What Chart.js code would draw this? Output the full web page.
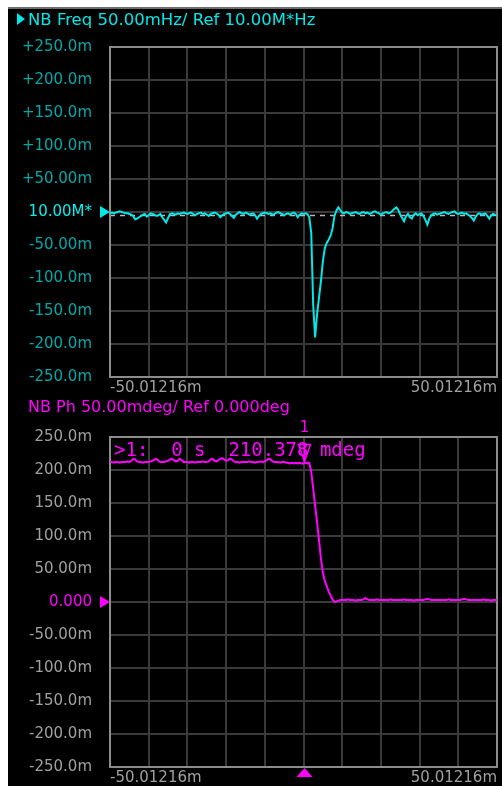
<!DOCTYPE html>
<html><head><meta charset="utf-8">
<script src="https://cdn.jsdelivr.net/npm/chart.js@4"></script>
<style>
html,body{margin:0;padding:0;background:#fff;overflow:hidden;width:502px;height:786px;}
#frame{position:absolute;left:8px;top:7px;width:494px;height:779px;background:#000;border-top:2px solid #6e6e6e;box-sizing:border-box;}
canvas{position:absolute;left:8px;}
#cA{top:9px}
#cB{top:399px}
</style></head><body>
<div id="frame"></div>
<canvas id="cA" width="494" height="390"></canvas>
<canvas id="cB" width="494" height="387"></canvas>
<script>
// ---- data (sweep points 0..200, values in milli-units) ----
const freqTitle = 'NB Freq 50.00mHz/ Ref 10.00M*Hz';
const phaseTitle = 'NB Ph 50.00mdeg/ Ref 0.000deg';
const xEndLabels = ['-50.01216m', '50.01216m'];
const yTickValues = [-250, -200, -150, -100, -50, 0, 50, 100, 150, 200, 250];
const freqTickLabels = ['-250.0m', '-200.0m', '-150.0m', '-100.0m', '-50.00m', '10.00M*', '+50.00m', '+100.0m', '+150.0m', '+200.0m', '+250.0m'];
const phaseTickLabels = ['-250.0m', '-200.0m', '-150.0m', '-100.0m', '-50.00m', '0.000', '50.00m', '100.0m', '150.0m', '200.0m', '250.0m'];
const freqMeanLine = -4;
const markerIndex = 100;
const markerNumber = '1';
const markerReadout = '>1:  0 s  210.378 mdeg';

const freqDev = [
  -2,-1,-2,-1,0,1,0,-1,-2,-2,
  -3,-4,-6,-11,-10,-8,-6,-4,-3,-7,
  -5,-2,-3,-4,-6,-5,-3,-8,-12,-16,
  -9,-3,-2,-3,-4,-2,-3,-2,-1,-2,
  -3,-2,-1,-3,-5,-3,-2,-1,-3,-2,
  -4,-6,-3,-2,-1,-2,-4,-8,-5,-3,
  -2,-1,-3,-6,-9,-4,-2,0,-2,-3,
  -1,-2,-4,-3,-2,-5,-10,-6,-3,-2,
  -1,-2,-3,-2,-4,-3,-1,0,-2,-3,
  -5,-3,-2,-4,-2,-1,-3,-8,-4,-2,
  -3,-2,-3,-8,-32,-140,-190,-155,-130,-105,
  -75,-55,-47,-42,-36,-25,-6,2,7,3,
  -1,-2,0,-1,-3,-2,-1,0,-2,-3,
  -1,0,-2,-1,-3,-2,0,1,-1,-2,
  -4,-2,-1,0,-2,-1,2,5,7,3,
  -4,-9,-14,-6,-3,-8,-10,-4,-2,-5,
  -3,-2,-6,-12,-19,-10,-5,-3,-2,-4,
  -3,-2,-1,0,-2,-3,-1,0,1,-2,
  -3,-2,-1,-3,-2,-4,-6,-9,-13,-7,
  -3,-2,-4,-3,-2,-6,-10,-5,-3,-4,
  -6
];

const phaseVals = [
  212,212,211,212,212,211,212,212,212,213,
  212,214,217,216,213,212,212,211,212,212,
  212,213,214,216,217,214,212,212,212,213,
  214,216,217,215,213,214,217,215,212,212,
  212,211,212,212,211,212,212,212,213,212,
  212,213,216,217,214,213,215,217,218,216,
  214,215,217,216,213,212,212,211,212,212,
  212,212,213,212,212,211,212,212,213,212,
  213,215,217,216,213,212,212,212,211,212,
  212,211,211,210,211,210,211,210,211,210,
  210,211,210,211,197,172,146,121,94,66,
  45,32,24,16,10,4,0,1,2,3,
  3,3,3,4,3,3,3,2,3,3,
  3,4,6,4,3,3,3,3,4,3,
  3,3,3,3,3,4,3,3,3,3,
  3,3,4,3,3,3,3,2,3,3,
  3,3,3,4,5,4,3,3,3,3,
  3,3,3,3,3,4,3,3,3,3,
  3,3,4,5,4,3,3,3,3,3,
  3,3,3,4,3,3,3,2,3,3,
  3
];

const CYAN = '#00e8e8';
const TEAL = '#00a8a8';
const MAGENTA = '#ff00ff';
const GRAYTXT = '#a0a0a0';
const FONT = {family: 'DejaVu Sans', size: 15};

function makeOptions(tickLabels, tickColor, xAxisH) {
  return {
    responsive: false, animation: false, devicePixelRatio: 1,
    layout: {padding: {top: 38, right: 5, left: 0, bottom: 0}},
    plugins: {legend: {display: false}, tooltip: {enabled: false}, title: {display: false}},
    elements: {point: {radius: 0}, line: {tension: 0}},
    scales: {
      x: {
        type: 'linear', min: 0, max: 200,
        grid: {color: '#3a3a3a', lineWidth: 2, drawTicks: false},
        border: {display: false},
        afterFit: s => { s.height = xAxisH; },
        afterBuildTicks: s => { s.ticks = [0,20,40,60,80,100,120,140,160,180,200].map(v => ({value: v})); },
        ticks: {
          autoSkip: false, maxRotation: 0, minRotation: 0, align: 'inner', padding: 2,
          color: GRAYTXT, font: FONT,
          callback: v => v === 0 ? xEndLabels[0] : (v === 200 ? xEndLabels[1] : '')
        }
      },
      y: {
        type: 'linear', min: -250, max: 250,
        grid: {color: '#3a3a3a', lineWidth: 2, drawTicks: true, tickLength: 18, tickColor: 'rgba(0,0,0,0)'},
        border: {display: false},
        afterFit: s => { s.width = 102; },
        afterBuildTicks: s => { s.ticks = yTickValues.map(v => ({value: v})); },
        ticks: {
          autoSkip: false, padding: 0, font: FONT, color: tickColor,
          callback: v => tickLabels[yTickValues.indexOf(v)]
        }
      }
    }
  };
}

function frameAndRef(chart, color) {
  const {ctx, chartArea: a, scales: {y}} = chart;
  ctx.save();
  ctx.strokeStyle = '#8c8c8c'; ctx.lineWidth = 2;
  ctx.strokeRect(a.left, a.top, a.right - a.left, a.bottom - a.top);
  const ry = y.getPixelForValue(0);
  ctx.fillStyle = color;
  ctx.beginPath(); ctx.moveTo(a.left - 10, ry - 6); ctx.lineTo(a.left - 10, ry + 6); ctx.lineTo(a.left, ry); ctx.closePath(); ctx.fill();
  ctx.restore();
}

new Chart(document.getElementById('cA'), {
  type: 'line',
  data: {datasets: [{data: freqDev.map((v, i) => ({x: i, y: v})), borderColor: CYAN, borderWidth: 2}]},
  options: makeOptions(freqTickLabels, c => (c.tick && c.tick.value === 0) ? '#00f0f0' : TEAL, 22),
  plugins: [{
    id: 'decorA',
    beforeDatasetsDraw(chart) {
      const {ctx, chartArea: a, scales: {y}} = chart;
      ctx.save();
      const yy = Math.round(y.getPixelForValue(freqMeanLine)) + 0.5;
      ctx.strokeStyle = '#b8b8b8'; ctx.lineWidth = 1.5; ctx.setLineDash([5, 5]);
      ctx.beginPath(); ctx.moveTo(a.left, yy); ctx.lineTo(a.right, yy); ctx.stroke();
      ctx.restore();
      frameAndRef(chart, CYAN);
    },
    afterDraw(chart) {
      const ctx = chart.ctx;
      ctx.save();
      ctx.fillStyle = CYAN;
      ctx.beginPath(); ctx.moveTo(9, 4); ctx.lineTo(9, 16); ctx.lineTo(17, 10); ctx.closePath(); ctx.fill();
      ctx.font = '16.5px "DejaVu Sans"'; ctx.textBaseline = 'alphabetic'; ctx.textAlign = 'left';
      ctx.fillText(freqTitle, 20, 16);
      ctx.restore();
    }
  }]
});

new Chart(document.getElementById('cB'), {
  type: 'line',
  data: {datasets: [{data: phaseVals.map((v, i) => ({x: i, y: v})), borderColor: MAGENTA, borderWidth: 2}]},
  options: makeOptions(phaseTickLabels, c => (c.tick && c.tick.value === 0) ? MAGENTA : GRAYTXT, 19),
  plugins: [{
    id: 'decorB',
    beforeDatasetsDraw(chart) { frameAndRef(chart, MAGENTA); },
    afterDraw(chart) {
      const {ctx, chartArea: a, scales: {x, y}} = chart;
      ctx.save();
      ctx.fillStyle = MAGENTA; ctx.strokeStyle = MAGENTA;
      ctx.font = '16px "DejaVu Sans"'; ctx.textAlign = 'left'; ctx.textBaseline = 'alphabetic';
      ctx.fillText(phaseTitle, 20, 13);
      // marker readout
      ctx.font = '19px "DejaVu Sans Mono"';
      ctx.fillText(markerReadout, a.left + 4, a.top + 19);
      // marker symbol
      const mx = Math.round(x.getPixelForValue(markerIndex)) + 0.5;
      const my = y.getPixelForValue(phaseVals[markerIndex]);
      ctx.lineWidth = 1.5;
      ctx.beginPath(); ctx.moveTo(mx - 6, my - 19); ctx.lineTo(mx + 6, my - 19); ctx.lineTo(mx, my - 2); ctx.closePath(); ctx.stroke();
      ctx.beginPath(); ctx.moveTo(mx, my - 19); ctx.lineTo(mx, my); ctx.stroke();
      ctx.font = '15px "DejaVu Sans"'; ctx.textAlign = 'center'; ctx.textBaseline = 'bottom';
      ctx.fillText(markerNumber, mx, a.top - 1);
      // bottom marker pointer
      const by = a.bottom + 1;
      ctx.beginPath(); ctx.moveTo(mx, by); ctx.lineTo(mx - 8, by + 9); ctx.lineTo(mx + 8, by + 9); ctx.closePath(); ctx.fill();
      ctx.restore();
    }
  }]
});
</script></body></html>
